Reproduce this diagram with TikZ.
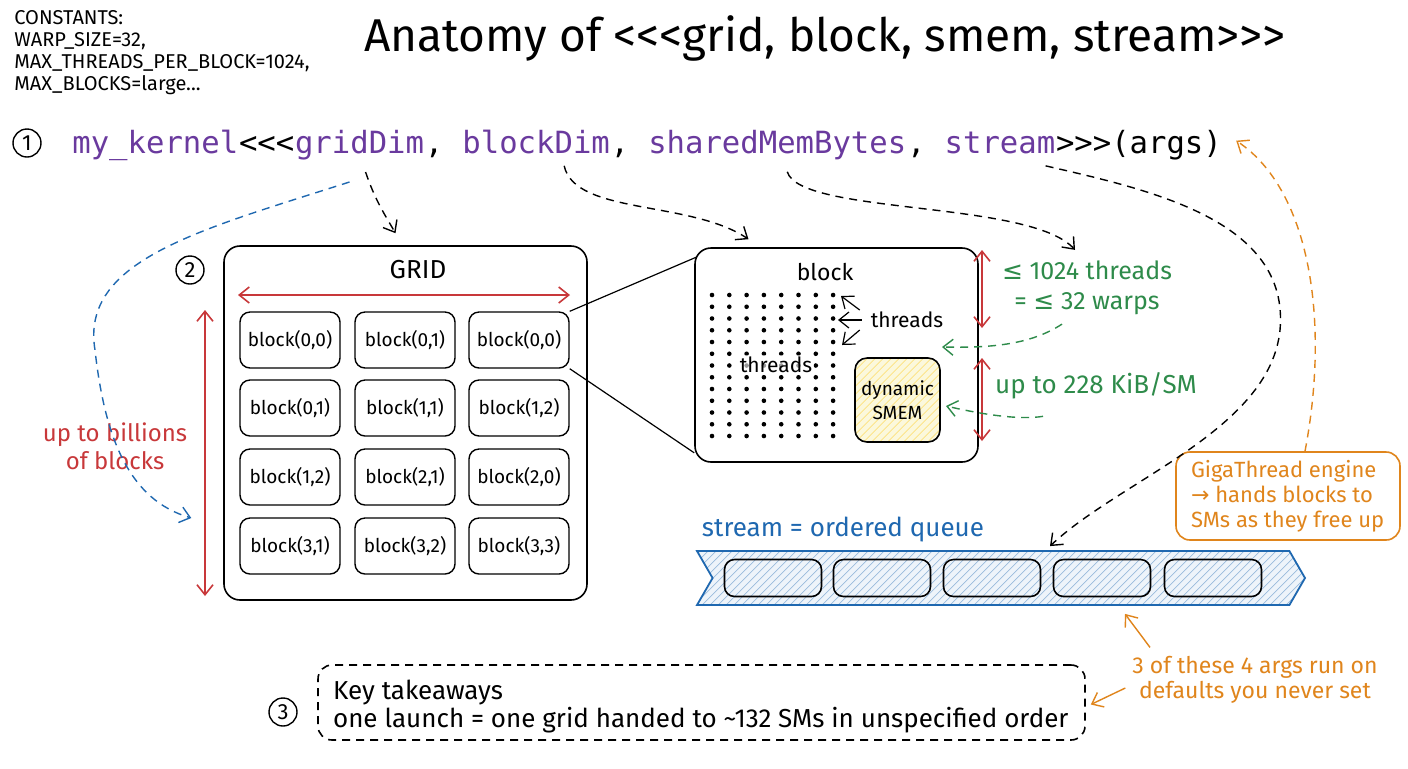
\documentclass[tikz,border=0pt]{standalone}
\usepackage{fontspec}
\setmainfont{Fira Sans}
\setmonofont{DejaVu Sans Mono}
\newfontfamily\symf{DejaVu Sans}
\usetikzlibrary{arrows.meta,calc,shapes.symbols}
\definecolor{cred}{HTML}{C8383A}
\definecolor{cgreen}{HTML}{2E8B4A}
\definecolor{cblue}{HTML}{1F68B0}
\definecolor{corange}{HTML}{E0851C}
\definecolor{cpurple}{HTML}{6A3A9E}
\definecolor{smemfill}{HTML}{FBF8DC}
\definecolor{qfill}{HTML}{EEF4FA}
\newcommand\LLL{<\kern0pt<\kern0pt<}
\newcommand\GGG{>\kern0pt>\kern0pt>}
\newcommand\mysle{{\symf ≤}}
\tikzset{
  box/.style={draw, line width=0.8pt, rounded corners=8pt, inner sep=0pt},
  cell/.style={draw, line width=0.7pt, rounded corners=5pt, minimum width=50pt, minimum height=28pt, inner sep=0pt, font=\fontsize{9.5}{11}\selectfont},
  num/.style={draw, circle, line width=0.7pt, minimum size=14pt, inner sep=0pt, font=\fontsize{11}{12}\selectfont},
  tip/.style={-{Straight Barb[length=5pt,width=8pt]}},
  dtip/.style={{Straight Barb[length=5pt,width=8pt]}-{Straight Barb[length=5pt,width=8pt]}},
  kdash/.style={dash pattern=on 4pt off 3pt, line width=0.7pt, tip},
  code/.style={inner sep=0pt, anchor=base west, font=\ttfamily\fontsize{15.3}{18}\selectfont},
  hatch/.style={path picture={\foreach \k in {-50,...,50}{\draw[#1, line width=0.35pt] ($(path picture bounding box.center)+(\k*8-100,100)$) -- ++(200,-200);}}},
  slot/.style={draw, line width=0.8pt, rounded corners=5pt, minimum width=48.5pt, minimum height=18.5pt, inner sep=0pt},
}
\begin{document}
\begin{tikzpicture}[x=0.5pt,y=-0.5pt]
\path[use as bounding box, fill=white] (0,0) rectangle (1408,768);

% constants
\node[anchor=north west, align=left, inner sep=0pt, font=\fontsize{10}{11}\selectfont] (consts) at (14,10)
  {CONSTANTS:\\WARP\_SIZE=32,\\MAX\_THREADS\_PER\_BLOCK=1024,\\MAX\_BLOCKS=large...};

% title
\node[font=\fontsize{23}{26}\selectfont] (title) at (825,38) {Anatomy of \LLL grid, block, smem, stream\GGG};

% code line
\node[num] (n1) at (27,143) {1};
\node[code, text=cpurple] (kname) at (72,153) {my\_kernel};
\node[code] (lt) at (kname.base east) {\LLL};
\node[code, text=cpurple] (gridDim) at (lt.base east) {gridDim};
\node[code] (c1) at (gridDim.base east) {,\ \null};
\node[code, text=cpurple] (blockDim) at (c1.base east) {blockDim};
\node[code] (c2) at (blockDim.base east) {,\ \null};
\node[code, text=cpurple] (smem) at (c2.base east) {sharedMemBytes};
\node[code] (c3) at (smem.base east) {,\ \null};
\node[code, text=cpurple] (stream) at (c3.base east) {stream};
\node[code] (args) at (stream.base east) {\GGG(args)};

% grid
\node[num] (n2) at (190,270) {2};
\node[box, minimum width=181.5pt, minimum height=177pt] (grid) at (405.5,423) {};
\node[font=\fontsize{13}{15}\selectfont] (gridlbl) at (418,270) {GRID};
\node[cell] (c11) at (290,340) {block(0,0)};
\node[cell] (c12) at (405,340) {block(0,1)};
\node[cell] (c13) at (519,340) {block(0,0)};
\node[cell] (c21) at (290,408) {block(0,1)};
\node[cell] (c22) at (405,408) {block(1,1)};
\node[cell] (c23) at (519,408) {block(1,2)};
\node[cell] (c31) at (290,477) {block(1,2)};
\node[cell] (c32) at (405,477) {block(2,1)};
\node[cell] (c33) at (519,477) {block(2,0)};
\node[cell] (c41) at (290,546) {block(3,1)};
\node[cell] (c42) at (405,546) {block(3,2)};
\node[cell] (c43) at (519,546) {block(3,3)};
\coordinate (hl) at (238,295); \coordinate (hr) at (570,295);
\draw[cred, line width=0.8pt, dtip] (hl) -- (hr);
\coordinate (vt) at (205,310); \coordinate (vb) at (205,596);
\draw[cred, line width=0.8pt, dtip] (vt) -- (vb);
\node[text=cred, align=center, font=\fontsize{12}{14}\selectfont] (billions) at (115,446) {up to billions\\of blocks};

% block
\node[box, minimum width=141.5pt, minimum height=107pt] (blk) at (836.5,355) {};
\node[font=\fontsize{11.5}{13}\selectfont] (blklbl) at (825,272) {block};
\foreach \i in {0,...,7}{\foreach \j in {0,...,12}{
  \fill ({712+17.3*\i},{295+11.75*\j}) circle (2.3);}}
\node[fill=white, fill opacity=0.6, text opacity=1, inner sep=1pt, font=\fontsize{10.5}{12}\selectfont] (thr2) at (776,365) {threads};
\node[font=\fontsize{10.5}{12}\selectfont] (thr1) at (907,320) {threads};
\coordinate (d1) at (841,296); \coordinate (d2) at (838,320); \coordinate (d3) at (842,345);
\draw[line width=0.6pt, tip] ($(thr1.west)+(-4,-10)$) -- (d1);
\draw[line width=0.6pt, tip] ($(thr1.west)+(-2,0)$) -- (d2);
\draw[line width=0.6pt, tip] ($(thr1.west)+(-4,10)$) -- (d3);
\node[box, rounded corners=6pt, fill=smemfill, hatch={yellow!60!orange!50}, minimum width=42.5pt, minimum height=42pt, align=center, font=\fontsize{9.5}{12}\selectfont] (smemb) at (897.5,400) {dynamic\\SMEM};
\draw[line width=0.6pt] (c13.north east) -- ($(blk.north west)+(2,10)$);
\draw[line width=0.6pt] (c13.south east) -- ($(blk.south west)+(0,-10)$);

% red + green annotations
\coordinate (r1t) at (982,250); \coordinate (r1b) at (982,328);
\coordinate (r2t) at (982,358); \coordinate (r2b) at (982,441);
\draw[cred, line width=0.8pt, dtip] (r1t) -- (r1b);
\draw[cred, line width=0.8pt, dtip] (r2t) -- (r2b);
\node[text=cgreen, align=center, font=\fontsize{12.5}{15}\selectfont] (thrlim) at (1087,288) {\mysle\ 1024 threads\\= \mysle\ 32 warps};
\node[text=cgreen, font=\fontsize{13}{15}\selectfont] (smlim) at (1096,386) {up to 228 KiB/SM};
\draw[cgreen, line width=0.7pt, dash pattern=on 4pt off 3pt, tip] ($(thrlim.south)+(-25,2)$) .. controls (1030,345) and (990,348) .. (942,347);
\draw[cgreen, line width=0.7pt, dash pattern=on 4pt off 3pt, tip] ($(smlim.south)+(-53,10)$) .. controls (1020,420) and (985,415) .. (946,406);

% stream queue
\node[text=cblue, font=\fontsize{13}{15}\selectfont] (qlbl) at (843,530) {stream = ordered queue};
\node[signal, signal to=east, signal from=west, signal pointer angle=120, draw=cblue, line width=0.9pt, fill=qfill, hatch={cblue!45}, minimum width=304pt, minimum height=27pt, inner sep=0pt] (queue) at (1001,578) {};
\node[slot] (s1) at (773,578) {};
\node[slot] (s2) at (882,578) {};
\node[slot] (s3) at (992,578) {};
\node[slot] (s4) at (1102,578) {};
\node[slot] (s5) at (1213,578) {};

% giga thread
\node[box, draw=corange, rounded corners=7pt, minimum width=112pt, minimum height=44pt] (giga) at (1288,496) {};
\node[text=corange, align=left, anchor=west, font=\fontsize{11}{12.5}\selectfont] (gigatxt) at (1184,496) {GigaThread engine\\{\symf →} hands blocks to\\SMs as they free up};

% note
\node[text=corange, align=center, font=\fontsize{11.5}{12.5}\selectfont] (note3) at (1255,680) {3 of these 4 args run on\\defaults you never set};

% takeaways
\node[num] (n3) at (283,712) {3};
\node[box, dash pattern=on 4pt off 3pt, rounded corners=7pt, minimum width=383.5pt, minimum height=37.5pt] (take) at (701.5,702.5) {};
\node[anchor=west, align=left, font=\fontsize{13}{14}\selectfont] (taketxt) at (326,707) {Key takeaways\\one launch = one grid handed to \textasciitilde132 SMs in unspecified order};

% dashed connectors from the launch line
\draw[kdash] ($(gridDim.south)+(6,12)$) .. controls (375,200) and (385,215) .. ($(grid.north)+(-10,-12)$);
\draw[kdash] ($(blockDim.south)+(28,12)$) .. controls (575,215) and (690,200) .. ($(blk.north)+(-88,-8)$);
\draw[kdash] ($(smem.south)+(10,12)$) .. controls (800,215) and (1030,200) .. ($(thrlim.north)+(-12,-4)$);
\draw[kdash] ($(stream.south east)+(-10,12)$) .. controls (1150,190) and (1290,220) .. (1280,330) .. controls (1270,430) and (1120,480) .. ($(queue.north)+(49,-4)$);
\draw[cblue, line width=0.7pt, dash pattern=on 4pt off 3pt, tip] ($(gridDim.south)+(-10,22)$) .. controls (200,230) and (80,260) .. (95,350) .. controls (105,440) and (130,500) .. ($(c41.west)+(-48,-28)$);
\draw[corange, line width=0.7pt, dash pattern=on 4pt off 3pt, tip] ($(giga.north)+(17,0)$) .. controls (1330,320) and (1310,190) .. ($(args.east)+(14,-4)$);
\draw[corange, line width=0.7pt, tip] ($(note3.north)+(-105,-2)$) -- ($(queue.south)+(124,8)$);
\draw[corange, line width=0.7pt, tip] ($(note3.west)+(0,8)$) -- ($(take.east)+(5,2)$);
\end{tikzpicture}
\end{document}
